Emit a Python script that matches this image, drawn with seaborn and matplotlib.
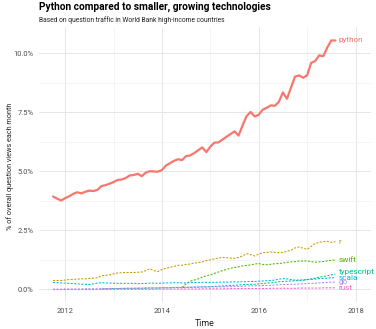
import numpy as np
import pandas as pd
import matplotlib
matplotlib.use("Agg")
import matplotlib.pyplot as plt
import seaborn as sns

# ---------------- data (share of question views, %) ----------------
start_month = "2011-10-01"
n_months = 71

python = [3.94, 3.85, 3.77, 3.87, 3.95, 4.05, 4.12, 4.07, 4.14, 4.19,
          4.17, 4.22, 4.38, 4.42, 4.48, 4.55, 4.64, 4.66, 4.72, 4.83,
          4.85, 4.90, 4.80, 4.95, 5.01, 5.00, 4.99, 5.06, 5.25, 5.35,
          5.45, 5.52, 5.48, 5.65, 5.68, 5.78, 5.90, 6.02, 5.82, 6.05,
          6.22, 6.23, 6.35, 6.47, 6.58, 6.70, 6.52, 6.95, 7.35, 7.52,
          7.33, 7.40, 7.62, 7.70, 7.80, 7.78, 7.95, 8.35, 8.08, 8.55,
          9.02, 9.07, 8.97, 9.07, 9.60, 9.68, 9.92, 9.88, 10.25, 10.55,
          10.55]
r = [0.38, 0.38, 0.38, 0.40, 0.42, 0.43, 0.44, 0.45, 0.45, 0.47,
     0.48, 0.50, 0.58, 0.60, 0.62, 0.66, 0.70, 0.71, 0.72, 0.72,
     0.72, 0.73, 0.74, 0.80, 0.88, 0.80, 0.76, 0.85, 0.90, 0.94,
     0.98, 1.02, 1.03, 1.06, 1.08, 1.12, 1.14, 1.17, 1.22, 1.26,
     1.30, 1.33, 1.36, 1.35, 1.33, 1.32, 1.36, 1.42, 1.52, 1.48,
     1.42, 1.50, 1.56, 1.57, 1.59, 1.57, 1.56, 1.57, 1.62, 1.66,
     1.76, 1.80, 1.75, 1.70, 1.82, 1.95, 2.00, 2.03, 2.04, 2.00,
     2.02]
swift = [None] * 32 + [
    0.08, 0.25, 0.35, 0.40, 0.45, 0.52, 0.58, 0.62, 0.68, 0.74,
    0.80, 0.85, 0.90, 0.93, 0.96, 1.00, 1.02, 1.04, 1.08, 1.10,
    1.06, 1.05, 1.07, 1.09, 1.10, 1.12, 1.15, 1.17, 1.18, 1.20,
    1.21, 1.21, 1.18, 1.16, 1.17, 1.19, 1.21, 1.24, 1.25]
typescript = [None] * 12 + [
    0.02, 0.03, 0.03, 0.04,
    0.04, 0.04, 0.05, 0.05, 0.05, 0.05,
    0.05, 0.06, 0.06, 0.06, 0.06, 0.07,
    0.07, 0.07, 0.08, 0.08, 0.08, 0.09,
    0.09, 0.10, 0.10, 0.11, 0.11, 0.12,
    0.13, 0.14, 0.15, 0.16, 0.17, 0.18,
    0.19, 0.20, 0.21, 0.22, 0.22, 0.24,
    0.25, 0.27, 0.28, 0.30, 0.33, 0.34,
    0.35, 0.36, 0.37, 0.38, 0.39, 0.42,
    0.45, 0.48, 0.52, 0.55, 0.58, 0.62, 0.65]
scala = [0.30, 0.29, 0.28, 0.27, 0.26, 0.25, 0.24, 0.23, 0.22, 0.21,
         0.24, 0.27, 0.29, 0.28, 0.27, 0.27,
         0.26, 0.26, 0.26, 0.26, 0.26, 0.25,
         0.25, 0.26, 0.27, 0.27, 0.26, 0.27,
         0.28, 0.28, 0.29, 0.29, 0.28, 0.28,
         0.29, 0.29, 0.30, 0.30, 0.30, 0.30,
         0.30, 0.31, 0.31, 0.31, 0.32, 0.32,
         0.32, 0.33, 0.33, 0.34, 0.34, 0.35,
         0.36, 0.37, 0.38, 0.40, 0.44, 0.46,
         0.45, 0.42, 0.40, 0.40, 0.41, 0.42,
         0.43, 0.44, 0.46, 0.47, 0.48, 0.50, 0.50]
go = [0.01, 0.01, 0.01, 0.02, 0.02, 0.02, 0.02, 0.02, 0.03, 0.03,
      0.03, 0.03, 0.03, 0.04, 0.04, 0.04,
      0.04, 0.05, 0.05, 0.05, 0.05, 0.06,
      0.06, 0.06, 0.07, 0.07, 0.07, 0.08,
      0.08, 0.08, 0.09, 0.09, 0.09, 0.10,
      0.10, 0.10, 0.11, 0.11, 0.11, 0.11,
      0.11, 0.11, 0.11, 0.12, 0.12, 0.12,
      0.13, 0.14, 0.15, 0.15, 0.16, 0.16,
      0.17, 0.17, 0.18, 0.19, 0.20, 0.21,
      0.21, 0.22, 0.22, 0.23, 0.24, 0.25,
      0.26, 0.27, 0.28, 0.29, 0.30, 0.31, 0.32]
rust = [0.00] * 12 + [0.01] * 14 + [0.02] * 11 + [0.03] * 7 + [0.04] * 10 + \
       [0.05] * 7 + [0.06] * 6 + [0.07] * 4

tags = ["python", "r", "swift", "typescript", "scala", "go", "rust"]
series = [python, r, swift, typescript, scala, go, rust]
colors = ["#F8766D", "#C49A00", "#53B400", "#00C094", "#00B6EB", "#A58AFF", "#FB61D7"]

title = "Python compared to smaller, growing technologies"
subtitle = "Based on question traffic in World Bank high-income countries"
x_label = "Time"
y_label = "% of overall question views each month"
x_ticks = [2012, 2014, 2016, 2018]
y_ticks = [0.0, 2.5, 5.0, 7.5, 10.0]

# ---------------- build table ----------------
dates = pd.date_range(start_month, periods=n_months, freq="MS")
year = dates.year + (dates.month - 1) / 12.0
rows = []
for tag, vals in zip(tags, series):
    assert len(vals) == n_months, (tag, len(vals))
    for yv, v in zip(year, vals):
        if v is not None:
            rows.append((tag, float(yv), float(v)))
df = pd.DataFrame(rows, columns=["tag", "year", "share"])

# ---------------- style ----------------
sns.set_theme(style="white")
plt.rcParams["font.family"] = ["Roboto", "DejaVu Sans"]

W, H = 376, 329
fig = plt.figure(figsize=(W / 100, H / 100), dpi=100)
left, right, top, bottom = 39, 371, 27, 302
ax = fig.add_axes([left / W, 1 - bottom / H, (right - left) / W, (bottom - top) / H])

palette = dict(zip(tags, colors))
dashes = {t: ("" if t == "python" else (2, 1.4)) for t in tags}
sizes = {t: (1.6 if t == "python" else 0.75) for t in tags}

sns.lineplot(data=df, x="year", y="share", hue="tag", hue_order=tags,
             style="tag", style_order=tags, dashes=dashes,
             size="tag", size_order=tags, sizes=sizes,
             palette=palette, estimator=None, legend=False, ax=ax)

ax.set_xlim(2011.46, 2018.32)
ax.set_ylim(-0.53, 11.12)

ax.set_xticks(x_ticks)
ax.set_xticklabels([str(t) for t in x_ticks])
ax.set_xticks([2013, 2015, 2017], minor=True)
ax.set_yticks(y_ticks)
ax.set_yticklabels([f"{v:.1f}%" for v in y_ticks])
ax.set_yticks([1.25, 3.75, 6.25, 8.75], minor=True)

ax.grid(which="major", color="#E6E6E6", linewidth=0.7)
ax.grid(which="minor", color="#F2F2F2", linewidth=0.6)
ax.set_axisbelow(True)
for s in ax.spines.values():
    s.set_visible(False)
ax.tick_params(axis="both", which="both", length=0, labelsize=5.4,
               labelcolor="#4D4D4D", pad=4)

ax.set_xlabel(x_label, fontsize=6.4, color="#222222", labelpad=3)
ax.set_ylabel(y_label, fontsize=5.2, color="#222222")
ax.yaxis.set_label_coords((10 - left) / (right - left), (bottom - 166) / (bottom - top))
ax.yaxis.label.set_verticalalignment("center")

# end-of-line labels
for tag, col in zip(tags, colors):
    sub = df[df.tag == tag]
    lx, ly = sub.year.iloc[-1], sub.share.iloc[-1]
    dy = {"typescript": 1.3, "scala": 0.0, "go": -0.4, "rust": -0.3}.get(tag, 0.0)
    ax.annotate(tag, xy=(lx, ly), xytext=(2.6, dy), textcoords="offset points",
                va="center", ha="left", color=col, fontsize=5.9)

fig.text(left / W, 1 - 10 / H, title, fontsize=7.3, fontweight="bold",
         color="black", ha="left", va="baseline")
fig.text(left / W, 1 - 21.5 / H, subtitle, fontsize=4.9,
         color="#222222", ha="left", va="baseline")

fig.savefig("out.png", dpi=100, facecolor="white")
